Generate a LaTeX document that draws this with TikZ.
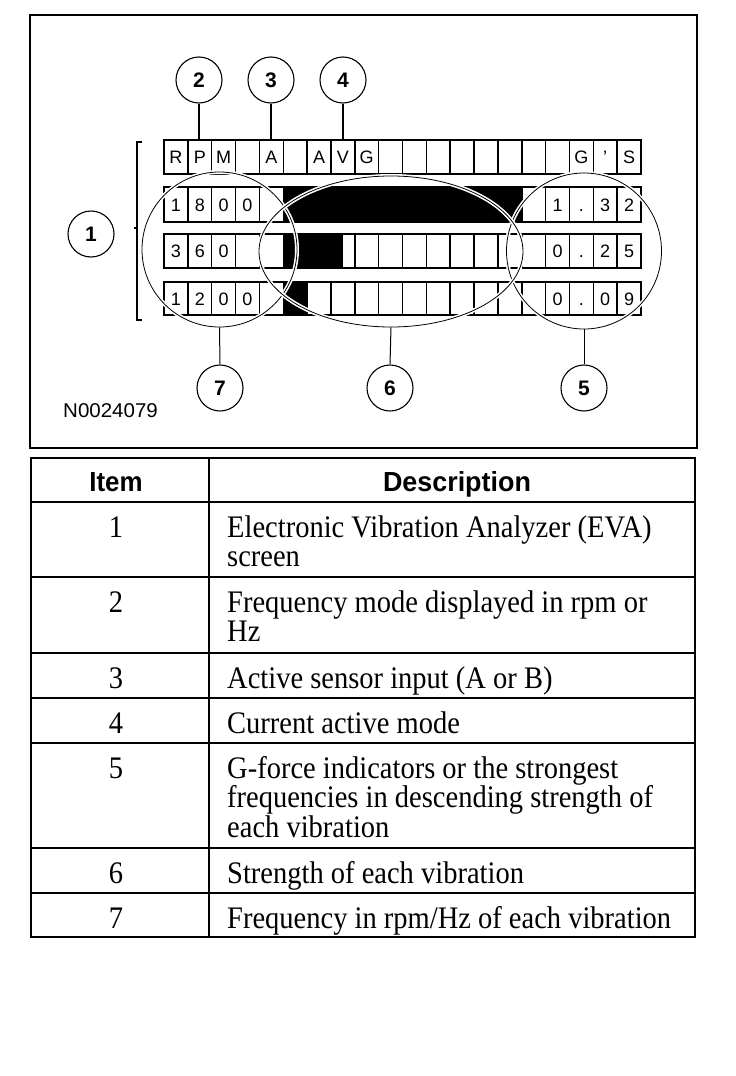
\documentclass[tikz,border=0pt]{standalone}
\usepackage{fontspec}
\usepackage{graphicx}
\setmainfont{Liberation Serif}
\setsansfont{Liberation Sans}
\usetikzlibrary{shapes.geometric}
\newcommand{\vst}[1]{\scalebox{1}[1.1]{#1}}
\begin{document}
\begin{tikzpicture}[x=1pt,y=-1pt,
  gridline/.style={line width=1.5pt},
  cell/.style={font=\fontsize{18}{18}\sffamily, inner sep=0pt, anchor=base},
  lbl/.style={circle, draw, line width=1.1pt, minimum size=46pt, inner sep=0pt, font=\fontsize{21}{21}\sffamily\bfseries},
  ring/.style={ellipse, draw, line width=0.8pt, inner sep=0pt, preaction={draw=white, line width=4pt}},
  lead/.style={line width=1pt},
  tline/.style={line width=2.2pt},
  body/.style={font=\fontsize{28.5}{30}\selectfont, anchor=base west, inner sep=0pt},
  num/.style={font=\fontsize{28.5}{30}\selectfont, anchor=base, inner sep=0pt},
  head/.style={font=\fontsize{24}{24}\sffamily\bfseries, anchor=base, inner sep=0pt}]
\useasboundingbox (0,0) rectangle (736,1076);
\fill[white] (0,0) rectangle (736,1076);

% diagram frame
\draw[line width=1.8pt] (30,15) rectangle (697,448);

% black bars
\fill (283,187) rectangle (522,222);
\fill (283,234) rectangle (343,268);
\fill (283,282) rectangle (307,315);

% display grid
\foreach \t/\b in {140/174,187/222,234/268,282/315}{
  \draw[gridline] (164,\t) rectangle (641,\b);
  \foreach \i in {1,...,19}
    \draw[gridline] ({164+\i*23.85},\t) -- ({164+\i*23.85},\b);
}

% cell texts
\foreach \i/\c in {0/R,1/P,2/M,4/A,6/A,7/V,8/G,17/G,18/’,19/S}
  \node[cell] (ra\i) at ({164+(\i+0.5)*23.85},163.5) {\c};
\foreach \i/\c in {0/1,1/8,2/0,3/0,16/1,17/.,18/3,19/2}
  \node[cell] (rb\i) at ({164+(\i+0.5)*23.85},211) {\c};
\foreach \i/\c in {0/3,1/6,2/0,16/0,17/.,18/2,19/5}
  \node[cell] (rc\i) at ({164+(\i+0.5)*23.85},257.5) {\c};
\foreach \i/\c in {0/1,1/2,2/0,3/0,16/0,17/.,18/0,19/9}
  \node[cell] (rd\i) at ({164+(\i+0.5)*23.85},305) {\c};

% brace for item 1
\draw[line width=1.5pt] (142,142) -- (137,142) -- (137,320) -- (142,320);
\draw[line width=1.5pt] (137,228) -- (133.5,228);

% encircled areas
\node[ring, minimum width=155pt, minimum height=155pt] (E7) at (219.5,249.5) {};
\node[ring, minimum width=155pt, minimum height=156pt] (E5) at (584,251) {};
\node[ring, minimum width=264pt, minimum height=151pt] (E6) at (391,251.5) {};

% labels
\node[lbl] (L1) at (91,234) {1};
\node[lbl] (L2) at (199,80) {2};
\node[lbl] (L3) at (271,80) {3};
\node[lbl] (L4) at (343,80) {4};
\node[lbl] (L7) at (220,388) {7};
\node[lbl] (L6) at (390,388) {6};
\node[lbl] (L5) at (584,388) {5};

\coordinate (P2) at (199,140);
\coordinate (P3) at (271,140);
\coordinate (P4) at (343,140);
\draw[line width=1.6pt] (L2.south) -- (P2);
\draw[line width=1.6pt] (L3.south) -- (P3);
\draw[line width=1.6pt] (L4.south) -- (P4);
\draw[lead] (E7.south) -- (L7.north);
\draw[lead] (E6.south) -- (L6.north);
\draw[lead] (E5.south) -- (L5.north);

\node[anchor=west, inner sep=0pt, font=\fontsize{19}{19}\sffamily] (code) at (63,411) {\scalebox{1.08}[1.05]{N0024079}};

% table
\draw[tline] (31,458) rectangle (695,937);
\foreach \y in {502,577,653,698,743,848,893}
  \draw[tline] (31,\y) -- (695,\y);
\draw[tline] (209,458) -- (209,937);

\node[head] (hItem) at (116,491) {\scalebox{1.08}[1.15]{Item}};
\node[head] (hDesc) at (457,491) {\scalebox{1.12}[1.15]{Description}};

\node[num] (n1) at (116,537) {\vst{1}};
\node[body] (d1a) at (227,537) {\vst{Electronic Vibration Analyzer (EVA)}};
\node[body] (d1b) at (227,566.5) {\vst{screen}};
\node[num] (n2) at (116,612) {\vst{2}};
\node[body] (d2a) at (227,612) {\vst{Frequency mode displayed in rpm or}};
\node[body] (d2b) at (227,641.5) {\vst{Hz}};
\node[num] (n3) at (116,688) {\vst{3}};
\node[body] (d3) at (227,688) {\vst{Active sensor input (A or B)}};
\node[num] (n4) at (116,733) {\vst{4}};
\node[body] (d4) at (227,733) {\vst{Current active mode}};
\node[num] (n5) at (116,778) {\vst{5}};
\node[body] (d5a) at (227,778) {\vst{G-force indicators or the strongest}};
\node[body] (d5b) at (227,807.5) {\vst{frequencies in descending strength of}};
\node[body] (d5c) at (227,837) {\vst{each vibration}};
\node[num] (n6) at (116,883) {\vst{6}};
\node[body] (d6) at (227,883) {\vst{Strength of each vibration}};
\node[num] (n7) at (116,928) {\vst{7}};
\node[body] (d7) at (227,928) {\vst{Frequency in rpm/Hz of each vibration}};
\end{tikzpicture}
\end{document}
